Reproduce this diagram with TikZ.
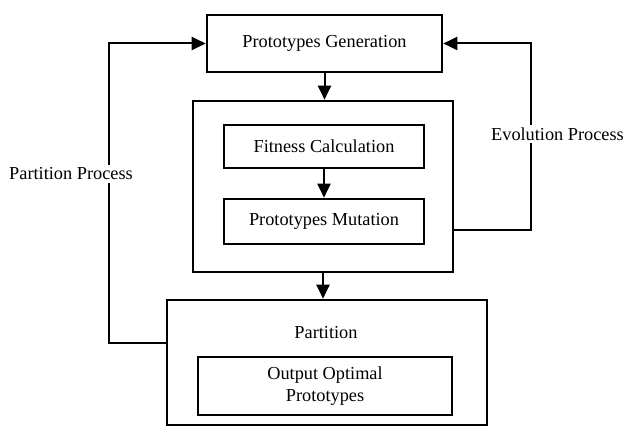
\documentclass[tikz,border=0pt]{standalone}
\usepackage{fontspec}
\setmainfont{Liberation Serif}
\usetikzlibrary{arrows.meta}
\usetikzlibrary{calc}

\begin{document}
\begin{tikzpicture}[x=1pt,y=1pt,
  >={Triangle[length=14pt,width=13pt]},
  blk/.style={draw,line width=2.6pt,minimum width=#1,inner sep=0pt,align=center,
    font=\fontsize{18.3}{22}\selectfont},
  lbl/.style={fill=white,inner sep=3pt,font=\fontsize{18.3}{22}\selectfont},
  conn/.style={line width=2pt}]
  \useasboundingbox (0,0) rectangle (625,426);

  \node[blk=235pt,minimum height=57pt] (gen) at (324.5,382.5) {Prototypes Generation};
  \node[blk=260pt,minimum height=171pt] (evo) at (323,239.5) {};
  \node[blk=200pt,minimum height=43pt] (fit) at (324,279.5) {Fitness Calculation};
  \node[blk=200pt,minimum height=45pt] (mut) at (324,204.5) {Prototypes Mutation};
  \node[blk=320pt,minimum height=125pt] (part) at (327,63.5) {};
  \node[font=\fontsize{18.3}{22}\selectfont] (partlbl) at (326,93) {Partition};
  \node[blk=254pt,minimum height=58pt] (out) at (325,40) {Output Optimal\\Prototypes};

  \draw[conn,->] (gen) -- (gen |- evo.north);
  \draw[conn,->] (fit) -- (mut);
  \draw[conn,->] (evo) -- (evo |- part.north);

  % feedback loops
  \coordinate (lx) at (109,0);
  \coordinate (rx) at (531,0);
  \draw[conn,->] ([yshift=19.5pt]part.west) -| (lx |- gen.west) -- (gen.west);
  \draw[conn,->] ([yshift=-43.5pt]evo.east) -| (rx |- gen.east) -- (gen.east);
  \node[lbl] (pp) at (71,252) {Partition Process};
  \node[lbl] (ep) at (557.5,292) {Evolution Process};
\end{tikzpicture}
\end{document}
